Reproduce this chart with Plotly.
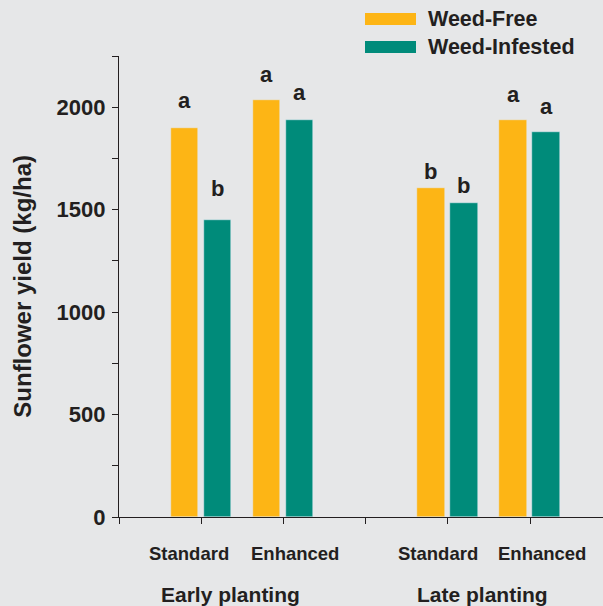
import plotly.graph_objects as go

# Sunflower yield by planting date, weed-control programme and weed pressure
planting = ["Early planting", "Late planting"]
programmes = ["Standard", "Enhanced", "Standard", "Enhanced"]
x_pos = [1, 2, 4, 5]
weed_free = [1900, 2035, 1605, 1940]
weed_infested = [1452, 1940, 1532, 1878]
letters_free = ["a", "a", "b", "a"]
letters_infested = ["b", "a", "b", "a"]
series_names = ["Weed-Free", "Weed-Infested"]
y_ticks = [0, 250, 500, 750, 1000, 1250, 1500, 1750, 2000, 2250]

ORANGE = "#FDB515"
TEAL = "#008B7A"
BG = "#E6E7E8"
INK = "#231F20"
FONT = "Liberation Sans, Arial, sans-serif"

BAR_W = 0.337

fig = go.Figure()
fig.add_trace(go.Bar(x=x_pos, y=weed_free, name=series_names[0], marker_color=ORANGE,
                     width=BAR_W, offset=-0.373, showlegend=False))
fig.add_trace(go.Bar(x=x_pos, y=weed_infested, name=series_names[1], marker_color=TEAL,
                     width=BAR_W, offset=0.028, showlegend=False))

annotations = []
# significance letters above the bars (pixel lift above each bar top)
free_shift = [13, 11, 2.5, 10.5]
inf_shift = [17, 13, 3, 11.5]
letter_font = dict(family=FONT, size=22, color=INK, weight="bold")
for i, xp in enumerate(x_pos):
    annotations.append(dict(x=xp - 0.373 + BAR_W / 2, y=weed_free[i], xref="x", yref="y",
                            text=letters_free[i], showarrow=False, yanchor="bottom",
                            yshift=free_shift[i], font=letter_font))
    annotations.append(dict(x=xp + 0.028 + BAR_W / 2, y=weed_infested[i], xref="x", yref="y",
                            text=letters_infested[i], showarrow=False, yanchor="bottom",
                            yshift=inf_shift[i], font=letter_font))

# programme labels under each pair of bars
prog_x = [0.852, 2.135, 3.88, 5.15]
for lbl, xp in zip(programmes, prog_x):
    annotations.append(dict(x=xp, y=0, xref="x", yref="paper", text=lbl, showarrow=False,
                            yanchor="top", yshift=-24,
                            font=dict(family=FONT, size=18.5, color=INK, weight="bold")))

# planting-date labels
group_x = [1.36, 4.42]
for lbl, xp in zip(planting, group_x):
    annotations.append(dict(x=xp, y=0, xref="x", yref="paper", text=lbl, showarrow=False,
                            yanchor="top", yshift=-64,
                            font=dict(family=FONT, size=21, color=INK, weight="bold")))

# y-axis title
annotations.append(dict(x=-0.2, y=0.5, xref="paper", yref="paper",
                        text="Sunflower yield (kg/ha)", textangle=-90, showarrow=False,
                        xanchor="center", yanchor="middle",
                        font=dict(family=FONT, size=24, color=INK, weight="bold")))

# legend drawn as swatches + labels in the top-right corner
shapes = []
legend_rows = [(series_names[0], ORANGE, 19), (series_names[1], TEAL, 47)]
for name, col, ypx in legend_rows:
    shapes.append(dict(type="rect", xref="paper", yref="paper",
                       x0=(365 - 119) / 484, x1=(416 - 119) / 484,
                       y0=(517 - (ypx + 6)) / 461, y1=(517 - (ypx - 6)) / 461,
                       fillcolor=col, line=dict(width=0)))
    annotations.append(dict(x=(426 - 119) / 484, y=(517 - ypx) / 461, xref="paper", yref="paper",
                            text=name, showarrow=False, xanchor="left", yanchor="middle",
                            font=dict(family=FONT, size=21.5, color=INK, weight="bold")))

fig.update_layout(
    width=603, height=606,
    margin=dict(l=119, r=0, t=56, b=89),
    paper_bgcolor=BG, plot_bgcolor=BG,
    annotations=annotations, shapes=shapes,
    bargap=0,
)
fig.update_xaxes(range=[0, 5.888], tickmode="array", tickvals=[0, 1, 2, 3, 4, 5, 6],
                 ticktext=[""] * 7, ticks="outside", ticklen=6, tickcolor=INK, tickwidth=1.3,
                 showline=True, linecolor=INK, linewidth=1.3, showgrid=False, zeroline=False)
fig.update_yaxes(range=[0, 2250], tickmode="array", tickvals=y_ticks,
                 ticktext=[str(v) if v % 500 == 0 else "" for v in y_ticks],
                 ticks="outside", ticklen=6, tickcolor=INK, tickwidth=1.3, ticklabelstandoff=2,
                 showline=True, linecolor=INK, linewidth=1.3, showgrid=False, zeroline=False,
                 tickfont=dict(family=FONT, size=22, color=INK, weight="bold"))

fig.write_html("out.html")
